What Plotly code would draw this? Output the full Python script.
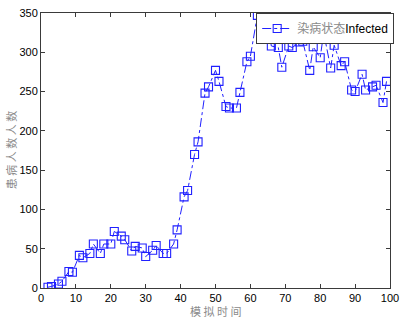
import plotly.graph_objects as go

time_steps = [2, 3, 5, 6, 8, 9, 11, 12, 14, 15, 17, 18, 20, 21, 23, 24, 26, 27, 29, 30,
              32, 33, 35, 36, 38, 39, 41, 42, 44, 45, 47, 48, 50, 51, 53, 54, 56, 57, 59, 60,
              62, 63, 65, 66, 68, 69, 71, 72, 74, 75, 77, 78, 80, 81, 83, 84, 86, 87, 89, 90,
              92, 93, 95, 96, 98, 99]
infected = [1, 2, 5, 8.5, 21, 20, 41.5, 38.5, 44, 56, 44, 56, 56, 72, 66, 61.5, 47, 53, 51, 40,
            48, 54, 44, 44, 56, 74, 116, 124, 170, 186, 248, 256, 277, 263, 231, 229, 229, 249, 288, 295,
            347, 322, 335, 308, 306, 281, 308, 306, 313, 314, 277, 307, 293, 325, 280, 309, 283, 288, 252, 250,
            272, 252, 256, 258, 236, 263]

x_ticks = [0, 10, 20, 30, 40, 50, 60, 70, 80, 90, 100]
y_ticks = [0, 50, 100, 150, 200, 250, 300, 350]

series_name = '<span style="color:#8a8a8a">染病状态</span>Infected'
x_title = "模 拟 时 间"
y_title = "患 病 人 数 人 数"

fig = go.Figure()
fig.add_trace(go.Scatter(
    x=time_steps, y=infected, mode="lines+markers", name=series_name,
    line=dict(color="#2020ff", width=1, dash="dashdot"),
    marker=dict(symbol="square-open", size=8, color="#2020ff", line=dict(width=1.1)),
))

axis_common = dict(
    showgrid=False, zeroline=False, showline=True, linecolor="#3a3a3a", linewidth=1,
    mirror="ticks", ticks="inside", ticklen=4, tickcolor="#3a3a3a",
    tickfont=dict(family="Liberation Sans, Arial", size=11, color="#000000"),
)

title_font = dict(family="Noto Sans CJK SC", size=11, color="#8a8a8a")

fig.update_layout(
    width=406, height=319,
    margin=dict(l=41, r=10, t=7, b=31),
    paper_bgcolor="white", plot_bgcolor="white",
    showlegend=True,
    legend=dict(
        x=1.012, y=1.0, xanchor="right", yanchor="top",
        bgcolor="white", bordercolor="#3a3a3a", borderwidth=1,
        font=dict(family="Liberation Sans, Noto Sans CJK SC", size=12, color="#000000"),
        tracegroupgap=0, itemwidth=30,
    ),
    xaxis=dict(range=[0, 100], tickvals=x_ticks, **axis_common),
    yaxis=dict(range=[0, 350], tickvals=y_ticks, **axis_common),
    annotations=[
        dict(text=x_title, xref="paper", yref="paper", x=0.5, y=-0.085, xanchor="center",
             yanchor="middle", showarrow=False, font=title_font),
        dict(text=y_title, xref="paper", yref="paper", x=-0.087, y=0.5, xanchor="center",
             yanchor="middle", showarrow=False, font=title_font, textangle=-90),
    ],
)

fig.write_html("out.html", config={"displayModeBar": False},
               post_script="document.body.style.margin='0';document.body.style.padding='0';document.body.style.overflow='hidden';")
